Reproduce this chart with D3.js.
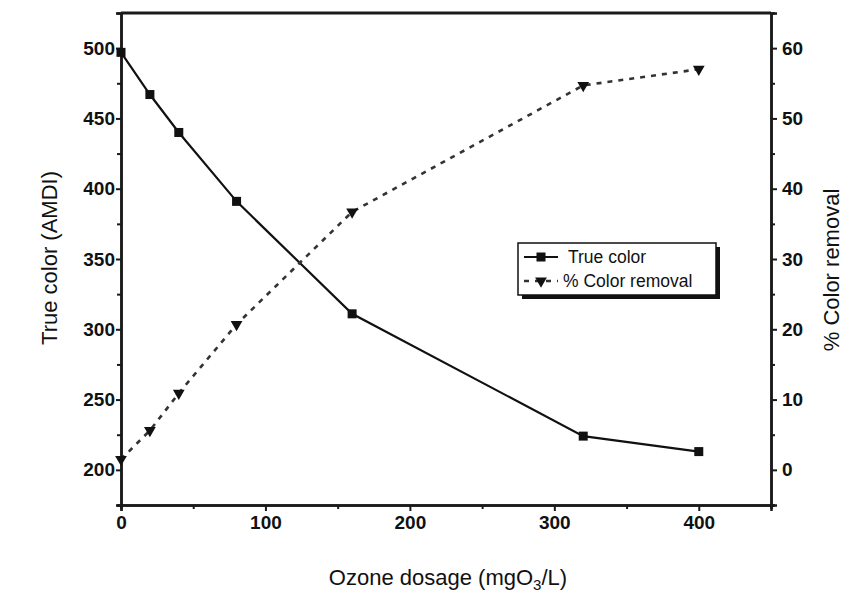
<!DOCTYPE html>
<html>
<head>
<meta charset="utf-8">
<script src="https://cdn.jsdelivr.net/npm/d3@7"></script>
<style>
  body { margin: 0; background: #fff; }
  text { font-family: "Liberation Sans", Arial, sans-serif; fill: #111; }
</style>
</head>
<body>
<div class="canvas"></div>
<script>
// data
var dosage = [0, 20, 40, 80, 160, 320, 400];
var trueColor = [497, 467, 440, 391, 311, 224, 213];
var removal = [1.5, 5.6, 10.9, 20.7, 36.7, 54.7, 57.0];
var xTicks = [0, 100, 200, 300, 400];
var yTicks = [200, 250, 300, 350, 400, 450, 500];
var y2Ticks = [0, 10, 20, 30, 40, 50, 60];

var width = 843, height = 592,
    margin = { top: 13, right: 72, bottom: 87, left: 121 },
    w = width - margin.left - margin.right,
    h = height - margin.top - margin.bottom;

var svg = d3.select('.canvas').append('svg')
    .attr('width', width)
    .attr('height', height);

var g = svg.append('g')
    .attr('transform', 'translate(' + margin.left + ',' + margin.top + ')');

var x = d3.scaleLinear().domain([0, 450]).range([0, w]),
    y = d3.scaleLinear().domain([175, 525]).range([h, 0]),
    y2 = d3.scaleLinear().domain([-5, 65]).range([h, 0]);

// minor ticks sit half way between the labelled ones
function minor(ticks, step) {
    return ticks.map(function (t) { return t - step; });
}

g.append('g').attr('transform', 'translate(0,' + h + ')')
    .call(d3.axisBottom(x).tickValues(minor(xTicks, -50)).tickSize(4).tickFormat(''));
g.append('g')
    .call(d3.axisLeft(y).tickValues(minor(yTicks, 25)).tickSize(4).tickFormat(''));
g.append('g').attr('transform', 'translate(' + w + ',0)')
    .call(d3.axisRight(y2).tickValues(minor(y2Ticks, 5)).tickSize(4).tickFormat(''));

g.append('g')
    .attr('transform', 'translate(0,' + h + ')')
    .call(d3.axisBottom(x).tickValues(xTicks).tickSize(6).tickPadding(5));
g.append('g')
    .call(d3.axisLeft(y).tickValues(yTicks).tickSize(5).tickPadding(1));
g.append('g')
    .attr('transform', 'translate(' + w + ',0)')
    .call(d3.axisRight(y2).tickValues(y2Ticks).tickSize(6).tickPadding(5));

svg.selectAll('.domain').attr('stroke', '#1a1a1a').attr('stroke-width', 2.5);
svg.selectAll('.tick line').attr('stroke', '#1a1a1a').attr('stroke-width', 2);
svg.selectAll('.tick text')
    .style('font-family', '"Liberation Sans Narrow", "Liberation Sans", Arial, sans-serif')
    .style('font-size', '19px')
    .style('font-weight', 'bold')
    .attr('fill', '#222');

// top border
g.append('line')
    .attr('x1', 0).attr('x2', w)
    .attr('y1', 0).attr('y2', 0)
    .attr('stroke', '#1a1a1a').attr('stroke-width', 3);

var pts = dosage.map(function (d, i) {
    return { x: d, c: trueColor[i], r: removal[i] };
});

// true color series
g.append('path')
    .datum(pts)
    .attr('fill', 'none')
    .attr('stroke', '#111')
    .attr('stroke-width', 2.2)
    .attr('d', d3.line().x(function (d) { return x(d.x); }).y(function (d) { return y(d.c); }));

g.selectAll('rect.sq')
    .data(pts)
    .enter()
    .append('rect')
    .attr('class', 'sq')
    .attr('x', function (d) { return x(d.x) - 4.5; })
    .attr('y', function (d) { return y(d.c) - 4.5; })
    .attr('width', 9)
    .attr('height', 9)
    .attr('fill', '#111');

// % color removal series
g.append('path')
    .datum(pts)
    .attr('fill', 'none')
    .attr('stroke', '#333')
    .attr('stroke-width', 2.6)
    .attr('stroke-dasharray', '5,6')
    .attr('d', d3.line().x(function (d) { return x(d.x); }).y(function (d) { return y2(d.r); }));

var tri = d3.symbol().type(d3.symbolTriangle).size(60);
g.selectAll('path.tri')
    .data(pts)
    .enter()
    .append('path')
    .attr('class', 'tri')
    .attr('d', tri)
    .attr('transform', function (d) {
        return 'translate(' + x(d.x) + ',' + y2(d.r) + ') rotate(180)';
    })
    .attr('fill', '#111');

// legend
var lg = svg.append('g').attr('transform', 'translate(518,243)');
lg.append('rect').attr('x', 4).attr('y', 4).attr('width', 198).attr('height', 52).attr('fill', '#111');
lg.append('rect').attr('x', 0).attr('y', 0).attr('width', 198).attr('height', 52)
    .attr('fill', '#fff').attr('stroke', '#111').attr('stroke-width', 1.5);

lg.append('line').attr('x1', 6).attr('x2', 40).attr('y1', 14).attr('y2', 14)
    .attr('stroke', '#111').attr('stroke-width', 2.2);
lg.append('rect').attr('x', 18.5).attr('y', 9.5).attr('width', 9).attr('height', 9).attr('fill', '#111');
lg.append('line').attr('x1', 6).attr('x2', 40).attr('y1', 38).attr('y2', 38)
    .attr('stroke', '#333').attr('stroke-width', 2.6).attr('stroke-dasharray', '5,6');
lg.append('path').attr('d', tri).attr('transform', 'translate(23,38) rotate(180)').attr('fill', '#111');

lg.append('text').attr('x', 50).attr('y', 20).text('True color')
    .style('font-size', '17.5px');
lg.append('text').attr('x', 45).attr('y', 44).text('% Color removal')
    .style('font-size', '17.5px');

// axis titles
svg.append('text')
    .attr('transform', 'translate(57,258) rotate(-90)')
    .attr('text-anchor', 'middle')
    .style('font-size', '22px')
    .text('True color (AMDI)');

svg.append('text')
    .attr('transform', 'translate(839,270) rotate(-90)')
    .attr('text-anchor', 'middle')
    .style('font-size', '22px')
    .text('% Color removal');

var xt = svg.append('text')
    .attr('x', 448)
    .attr('y', 585)
    .attr('text-anchor', 'middle')
    .style('font-size', '22px');
xt.append('tspan').text('Ozone dosage (mgO');
xt.append('tspan').attr('dy', 5).style('font-size', '15px').text('3');
xt.append('tspan').attr('dy', -5).text('/L)');
</script>
</body>
</html>
